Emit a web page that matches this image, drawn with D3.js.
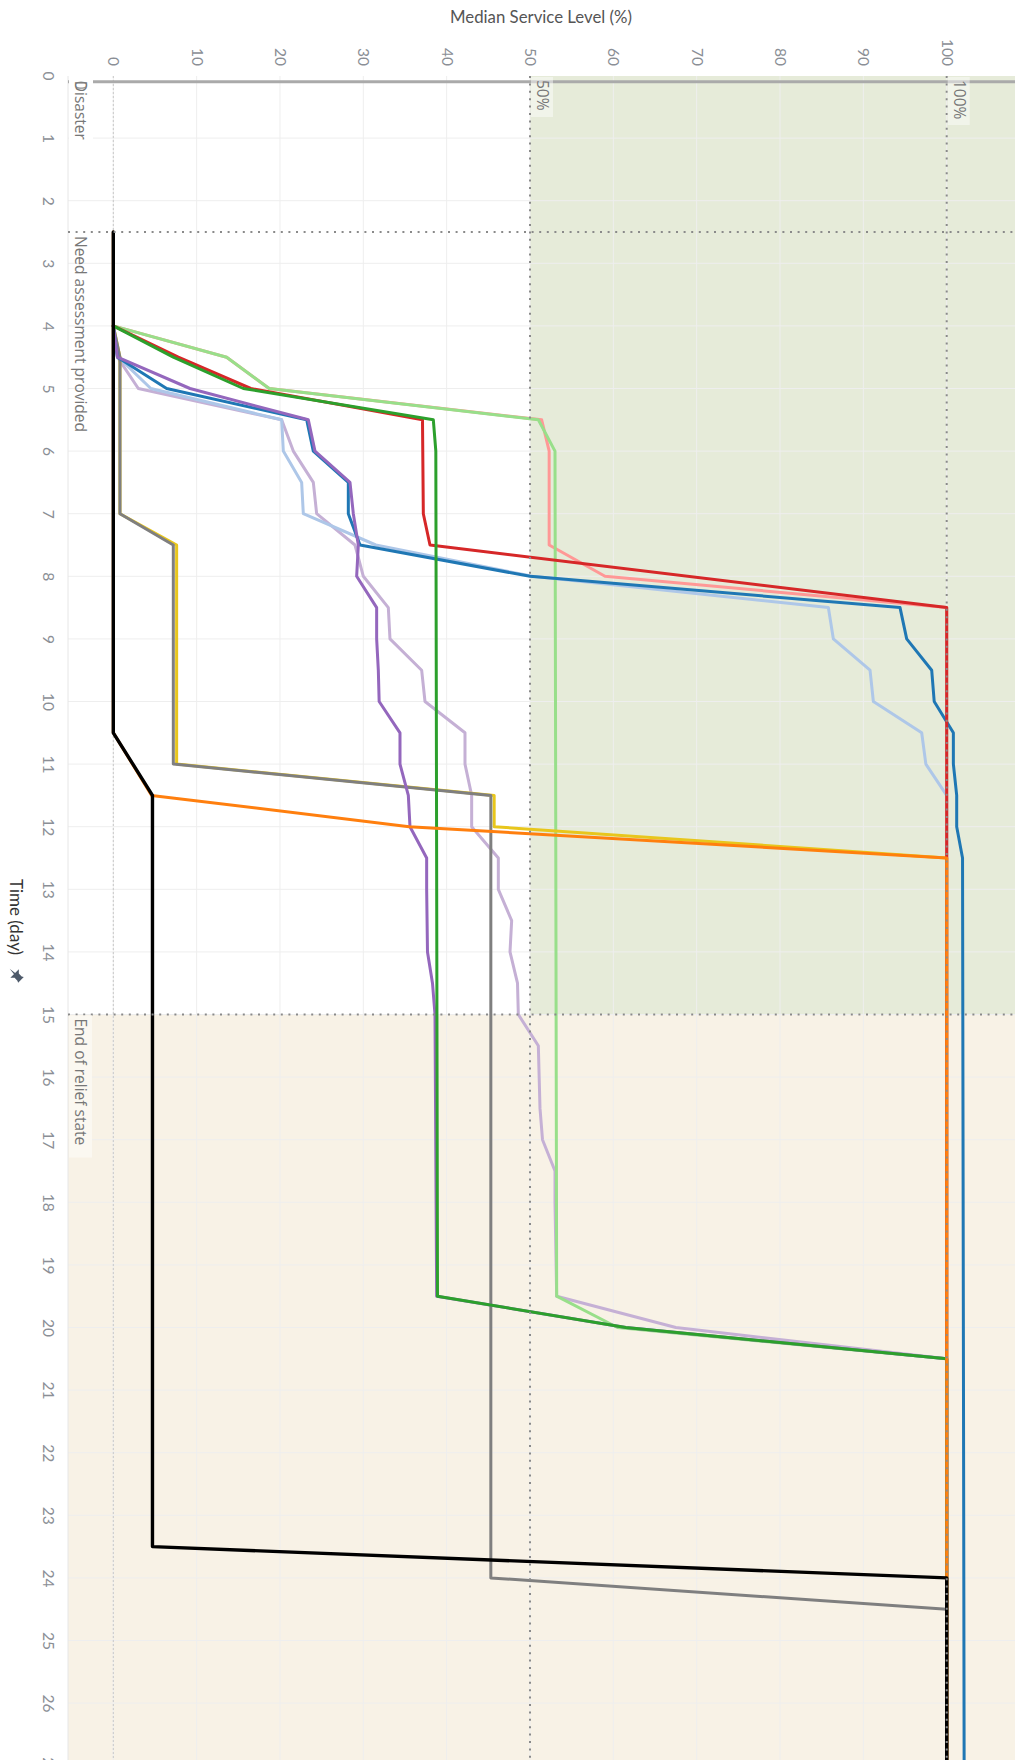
<!DOCTYPE html>
<html><head><meta charset="utf-8">
<script src="https://cdn.jsdelivr.net/npm/d3@7"></script>
<style>
body{margin:0;background:#fff;}
text{font-family:Lato,"Open Sans",sans-serif;}
text.ann{font-family:"Open Sans",sans-serif;}
</style>
</head><body>
<svg id="c" width="1015" height="1760"></svg>
<script>
// ---------- data ----------
const dayTicks = d3.range(0, 28);
const levelTicks = [0,10,20,30,40,50,60,70,80,90,100];
const thresholdLevels = [50, 100];
const thresholdLabels = ["50%", "100%"];
const eventDays = [0.1, 2.5, 15];
const eventLabels = ["Disaster", "Need assessment provided", "End of relief state"];
const reliefEndDay = 15;

const seriesNames = ["lavender","lightBlue","pink","lightGreen","yellow","gray","blue","purple","red","green","orange","black"];
const seriesColors = ["#c5b0d5","#aec7e8","#ff9896","#98df8a","#e8c61c","#7f7f7f","#1f77b4","#9467bd","#d62728","#2ca02c","#ff7f0e","#000000"];

const sLavender = [[4,0],[4.5,0.5],[5,3],[5.5,20.2],[6,21.6],[6.5,24],[7,24.4],[7.5,29],[8,30],[8.5,33],[9,33.2],[9.5,37],[10,37.4],[10.5,42.2],[11,42.2],[11.5,43],[12,43],[12.5,46.2],[13,46.2],[13.5,47.8],[14,47.6],[14.5,48.5],[15,48.6],[15.5,51],[16,51.1],[16.5,51.2],[17,51.5],[17.5,53],[18,53],[19.5,53.2],[20,67.5],[20.5,100],[27.5,100]];
const sLightBlue = [[4,0],[4.5,0.6],[5,4.5],[5.5,20.2],[6,20.4],[6.5,22.6],[7,22.8],[7.5,31.5],[8,50.3],[8.5,85.8],[9,86.4],[9.5,90.8],[10,91.2],[10.5,97],[11,97.5],[11.5,100],[27.5,100]];
const sPink = [[4,0],[4.5,13.6],[5,18.7],[5.5,51.4],[6,52.3],[7.5,52.3],[8,59],[8.5,100],[27.5,100]];
const sLightGreen = [[4,0],[4.5,13.6],[5,18.7],[5.5,51],[6,53],[19.5,53.2],[20,60.5],[20.5,100],[27.5,100]];
const sYellow = [[4,0],[4.5,0.8],[7,0.8],[7.5,7.6],[11,7.6],[11.5,45.7],[12,45.7],[12.5,100],[27.5,100]];
const sGray = [[4,0],[4.5,0.8],[7,0.8],[7.5,7.2],[11,7.2],[11.5,45.3],[24,45.3],[24.5,100],[27.5,100]];
const sBlue = [[4,0],[4.5,0.5],[5,6.4],[5.5,23.2],[6,24],[6.5,28.2],[7,28.2],[7.5,29.6],[8,50],[8.5,94.4],[9,95.2],[9.5,98.2],[10,98.5],[10.5,100.8],[11,100.8],[11.5,101.2],[12,101.2],[12.5,101.9],[27.5,102.1]];
const sPurple = [[4,0],[4.5,0.5],[5,9.2],[5.5,23.4],[6,24.2],[6.5,28.4],[7,28.8],[7.5,29.4],[8,29.2],[8.5,31.6],[9,31.6],[9.5,31.8],[10,31.9],[10.5,34.4],[11,34.4],[11.5,35.4],[12,35.6],[12.5,37.6],[13,37.6],[14,37.7],[14.5,38.3],[15,38.6],[19.5,38.8],[20,61.5],[20.5,100],[27.5,100]];
const sRed = [[4,0],[4.5,7.8],[5,16.5],[5.5,37.1],[7,37.2],[7.5,38],[8.5,100],[27.5,100]];
const sGreen = [[4,0],[4.5,7.2],[5,15.6],[5.5,38.4],[6,38.7],[19.5,38.9],[20,61.5],[20.5,100],[27.5,100]];
const sOrange = [[2.5,0],[10.5,0],[11.5,4.6],[12,35.5],[12.5,100],[27.5,100]];
const sBlack = [[2.5,0],[10.5,0],[11.5,4.7],[23.5,4.7],[24,100],[27.5,100]];
const seriesData = [sLavender,sLightBlue,sPink,sLightGreen,sYellow,sGray,sBlue,sPurple,sRed,sGreen,sOrange,sBlack];

// ---------- layout ----------
const W = 1015, H = 1760;
const P = {left: 68, top: 76, right: 1015, bottom: 1760};
const x = d3.scaleLinear().domain([0, 100]).range([113.3, 946.7]);
const y = d3.scaleLinear().domain([0, 27]).range([75.5, 75.5 + 62.6 * 27]);

const svg = d3.select("#c");
svg.append("defs").append("clipPath").attr("id","clip")
  .append("rect").attr("x",P.left).attr("y",P.top).attr("width",P.right-P.left).attr("height",P.bottom-P.top);

// bands
svg.append("rect").attr("x", x(50)).attr("y", P.top).attr("width", P.right - x(50)).attr("height", y(reliefEndDay) - P.top).attr("fill", "#e6ebd9");
svg.append("rect").attr("x", P.left).attr("y", y(reliefEndDay)).attr("width", P.right - P.left).attr("height", P.bottom - y(reliefEndDay)).attr("fill", "#f8f2e6");

// gridlines
const grid = svg.append("g").attr("clip-path","url(#clip)");
grid.selectAll(".gv").data(levelTicks).join("line")
  .attr("x1", d => x(d)).attr("x2", d => x(d)).attr("y1", P.top).attr("y2", P.bottom)
  .attr("stroke", "#eeeeee").attr("stroke-width", 1);
grid.selectAll(".gh").data(dayTicks).join("line")
  .attr("x1", P.left).attr("x2", P.right).attr("y1", d => y(d)).attr("y2", d => y(d))
  .attr("stroke", "#eeeeee").attr("stroke-width", 1);
svg.append("line").attr("x1", P.left).attr("x2", P.left).attr("y1", P.top).attr("y2", P.bottom).attr("stroke", "#e6e6e6");

// zero line (light dotted)
svg.append("line").attr("x1", x(0)).attr("x2", x(0)).attr("y1", P.top).attr("y2", P.bottom)
  .attr("stroke", "#c8c8c8").attr("stroke-width", 1).attr("stroke-dasharray", "2,2");

// disaster line
svg.append("line").attr("x1", P.left).attr("x2", P.right).attr("y1", y(eventDays[0])).attr("y2", y(eventDays[0]))
  .attr("stroke", "#aaaaaa").attr("stroke-width", 2.8);

// series lines
const line = d3.line().x(d => x(d[1])).y(d => y(d[0]));
const lines = svg.append("g").attr("clip-path","url(#clip)");
seriesData.forEach((s, i) => {
  lines.append("path").datum(s).attr("d", line)
    .attr("fill", "none").attr("stroke", seriesColors[i])
    .attr("stroke-width", seriesNames[i] === "black" ? 3.4 : 3)
    .attr("stroke-linejoin", "round").attr("stroke-linecap", "round");
});

// dotted reference lines on top
const ref = svg.append("g").attr("clip-path","url(#clip)");
ref.selectAll(".rv").data(thresholdLevels).join("line")
  .attr("x1", d => x(d)).attr("x2", d => x(d)).attr("y1", P.top).attr("y2", P.bottom)
  .attr("stroke", "#8a8a8a").attr("stroke-width", 2).attr("stroke-dasharray", "2,5.4");
ref.selectAll(".rh").data(eventDays.slice(1)).join("line")
  .attr("x1", P.left).attr("x2", P.right).attr("y1", d => y(d)).attr("y2", d => y(d))
  .attr("stroke", "#8a8a8a").attr("stroke-width", 2).attr("stroke-dasharray", "2,5.6");

// label boxes & labels
function vlabel(g, xc, ystart, txt, size, fill) {
  g.append("text").attr("class", "ann")
    .attr("transform", `translate(${xc},${ystart}) rotate(90)`)
    .attr("dy", "0.35em").attr("text-anchor", "start")
    .attr("font-size", size).attr("fill", fill).text(txt);
}
const ann = svg.append("g");
ann.append("rect").attr("x", P.left + 1).attr("y", P.top + 1).attr("width", 24).attr("height", 74).attr("fill", "#ffffff");
vlabel(ann, 80.5, y(eventDays[0]) - 1, "0", 15.5, "#999");
vlabel(ann, 80.5, y(eventDays[0]) - 1, eventLabels[0], 15.5, "#777");
vlabel(ann, 80.5, y(eventDays[1]) + 4, eventLabels[1], 15.5, "#777");
ann.append("rect").attr("x", P.left + 1).attr("y", y(eventDays[2]) + 1).attr("width", 23).attr("height", 142).attr("fill", "#fbf8f1");
vlabel(ann, 80.5, y(eventDays[2]) + 4, eventLabels[2], 15.5, "#777");
thresholdLevels.forEach((v, i) => {
  ann.append("rect").attr("x", x(v) + 1).attr("y", P.top + 1).attr("width", 22).attr("height", i ? 48 : 40)
    .attr("fill", "rgba(255,255,255,0.45)");
  vlabel(ann, x(v) + 12.5, P.top + 4, thresholdLabels[i], 15.5, "#777");
});

// axes
const xAxis = svg.append("g").attr("transform", `translate(0,66)`)
  .call(d3.axisTop(x).tickValues(levelTicks).tickSize(0).tickPadding(0));
xAxis.select(".domain").remove();
xAxis.selectAll("text").attr("x", 0).attr("y", 0).attr("dy", "0.35em")
  .attr("text-anchor", "end").attr("transform", "rotate(90)")
  .attr("font-size", 15.5).attr("fill", "#8b8f96");

const yAxis = svg.append("g").attr("transform", `translate(48,0)`)
  .call(d3.axisLeft(y).tickValues(dayTicks).tickSize(0).tickPadding(0));
yAxis.select(".domain").remove();
yAxis.selectAll("text").attr("x", 0).attr("y", 0).attr("dy", "0.35em")
  .attr("text-anchor", "middle").attr("transform", "rotate(90)")
  .attr("font-size", 15.5).attr("fill", "#8b8f96");

// titles
svg.append("text").attr("x", 541).attr("y", 23).attr("text-anchor", "middle")
  .attr("font-size", 16.8).attr("fill", "#555").text("Median Service Level (%)");
svg.append("text").attr("transform", `translate(16,917) rotate(90)`).attr("dy", "0.35em")
  .attr("text-anchor", "middle").attr("font-size", 17).attr("fill", "#333").text("Time (day)");
// pin icon
svg.append("path").attr("transform", "translate(16,975) rotate(135)")
  .attr("d", "M-4,-7 L4,-7 L3,-5 L3,-1 L6,2 L-6,2 L-3,-1 L-3,-5 Z M-0.8,2 L0.8,2 L0,9 Z")
  .attr("fill", "#4e5a6a");
</script>
</body></html>
